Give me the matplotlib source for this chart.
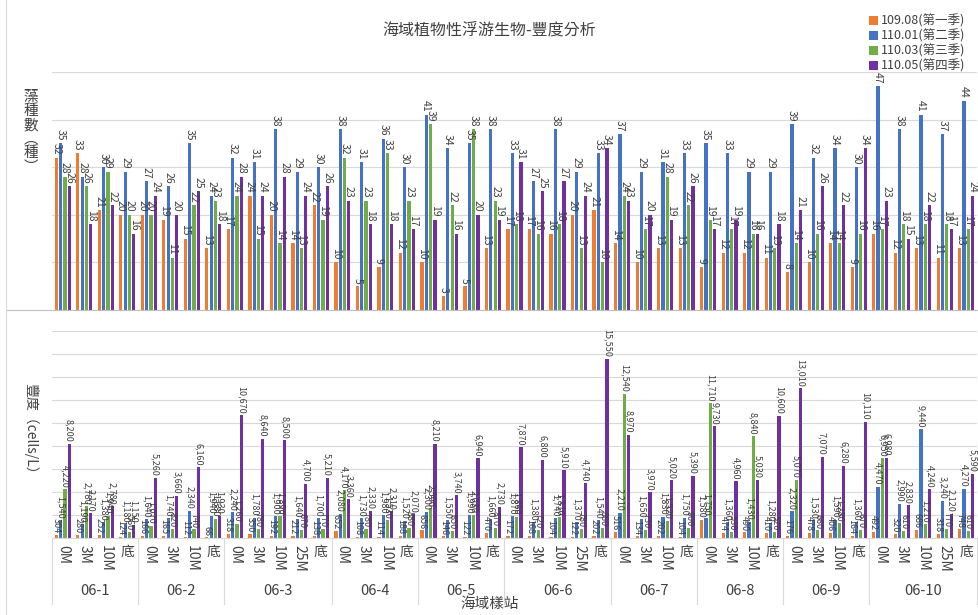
import numpy as np
import matplotlib.pyplot as plt
from matplotlib.lines import Line2D

plt.rcParams['font.family'] = ['Noto Sans CJK TC', 'DejaVu Sans']

stations = ['06-1', '06-2', '06-3', '06-4', '06-5', '06-6', '06-7', '06-8', '06-9', '06-10']
depths = [['0M', '3M', '10M', '底'], ['0M', '3M', '10M', '底'], ['0M', '3M', '10M', '25M', '底'],
          ['0M', '3M', '10M', '底'], ['0M', '3M', '10M', '底'], ['0M', '3M', '10M', '25M', '底'],
          ['0M', '3M', '10M', '底'], ['0M', '3M', '10M', '底'], ['0M', '3M', '10M', '底'],
          ['0M', '3M', '10M', '25M', '底']]
seasons = ['109.08(第一季)', '110.01(第二季)', '110.03(第三季)', '110.05(第四季)']
colors = ['#ED7D31', '#4472C4', '#70AD47', '#7030A0']

# 藻種數
sp_q1 = [32, 33, 21, 20, 20, 19, 15, 13, 17, 24, 20, 14, 22, 10, 5, 9, 12, 10, 3, 5, 13,
         17, 17, 16, 20, 21, 14, 10, 13, 13, 9, 12, 12, 11, 8, 10, 14, 9, 16, 12, 13, 11, 13]
sp_q2 = [35, 28, 30, 29, 27, 26, 35, 24, 32, 31, 38, 29, 30, 38, 31, 36, 30, 41, 34, 35, 38,
         33, 27, 38, 29, 33, 37, 29, 31, 33, 35, 33, 29, 29, 39, 32, 34, 30, 47, 38, 41, 37, 44]
sp_q3 = [28, 26, 29, 20, 20, 11, 22, 23, 24, 15, 14, 13, 19, 32, 23, 33, 23, 39, 22, 38, 23,
         18, 16, 18, 13, 10, 24, 17, 28, 22, 19, 17, 16, 13, 14, 16, 14, 16, 17, 18, 18, 18, 17]
sp_q4 = [26, 18, 22, 16, 24, 20, 25, 18, 28, 24, 28, 24, 26, 23, 18, 18, 17, 19, 16, 20, 19,
         31, 25, 27, 24, 34, 23, 20, 19, 26, 17, 19, 16, 18, 21, 26, 22, 34, 23, 15, 22, 17, 24]

# 豐度 cells/L
ab_q1 = [304, 280, 252, 124, 166, 165, 112, 66, 318, 350, 192, 212, 138, 652, 108, 114, 188,
         656, 146, 122, 470, 172, 168, 104, 122, 202, 516, 134, 202, 104, 1580, 474, 490, 410,
         176, 478, 406, 164, 492, 320, 686, 318, 748]
ab_q2 = [1540, 1190, 1380, 1180, 1640, 1740, 2340, 1940, 2240, 1780, 1900, 1640, 1700, 2080,
         1730, 1980, 1520, 2300, 1550, 1990, 1660, 1870, 1380, 1740, 1370, 1540, 2210, 1650,
         1830, 1750, 1750, 1360, 1430, 1280, 2320, 1530, 1590, 1360, 4470, 2990, 9440, 3240, 4270]
ab_q3 = [4220, 2780, 1940, 560, 1070, 820, 740, 1680, 1260, 780, 1890, 670, 770, 4170, 780,
         1530, 880, 2590, 650, 2030, 870, 1860, 720, 1810, 780, 860, 12540, 730, 1520, 900,
         11710, 530, 8840, 520, 5070, 660, 1280, 670, 6950, 610, 1210, 770, 610]
ab_q4 = [8200, 2170, 2780, 1150, 5260, 3660, 6160, 1930, 10670, 8640, 8500, 4700, 5210, 3360,
         2330, 2310, 2070, 8210, 3740, 6940, 2730, 7870, 6800, 5910, 4740, 15550, 8970, 3970,
         5020, 5390, 9730, 4960, 5030, 10600, 13010, 7070, 6280, 10110, 6980, 2830, 4240, 2120, 5590]

labels = [d for grp in depths for d in grp]
x = np.arange(len(labels))
offsets = [-0.3, -0.1, 0.1, 0.3]
w = 0.15

fig = plt.figure(figsize=(9.79, 6.15), dpi=100)
L, R = 52 / 979, 977 / 979
ax1 = fig.add_axes([L, 1 - 310 / 615, R - L, (310 - 72) / 615])
ax2 = fig.add_axes([L, 1 - 538 / 615, R - L, (538 - 331) / 615])

grid_c = '#d9d9d9'
for ax in (ax1, ax2):
    ax.set_xlim(-0.5, len(labels) - 0.5)
    ax.set_xticks([])
    ax.set_yticklabels([])
    ax.tick_params(axis='y', length=0)
    ax.grid(axis='y', color=grid_c, linewidth=0.8)
    ax.set_axisbelow(True)
    for s in ax.spines.values():
        s.set_visible(False)

ax1.set_ylim(0, 50)
ax1.set_yticks(np.arange(0, 51, 10))
ax2.set_ylim(0, 18000)
ax2.set_yticks(np.arange(0, 18001, 2000))

for i, vals in enumerate([sp_q1, sp_q2, sp_q3, sp_q4]):
    ax1.bar(x + offsets[i], vals, w, color=colors[i], label=seasons[i])
    for xi, v in zip(x, vals):
        ax1.text(xi + offsets[i], v + 0.6, str(v), rotation=270, ha='center', va='bottom',
                 fontsize=7.5, color='#404040', clip_on=False)

for i, vals in enumerate([ab_q1, ab_q2, ab_q3, ab_q4]):
    ax2.bar(x + offsets[i], vals, w, color=colors[i])
    for xi, v in zip(x, vals):
        ax2.text(xi + offsets[i], v + 150, f'{v:,}', rotation=270, ha='center', va='bottom',
                 fontsize=6.5, color='#404040', clip_on=False)

# category and station labels under the lower panel
tr = ax2.get_xaxis_transform()
for xi, lab in zip(x, labels):
    rot = 0 if lab == '底' else 270
    ax2.text(xi, -0.035, lab, rotation=rot, ha='center', va='top', fontsize=10,
             color='#404040', transform=tr)
edges = np.cumsum([0] + [len(g) for g in depths]) - 0.5
for e in edges:
    ax2.plot([e, e], [0, -0.32], color=grid_c, linewidth=0.8, transform=tr, clip_on=False)
for k, st in enumerate(stations):
    ax2.text((edges[k] + edges[k + 1]) / 2, -0.255, st, ha='center', va='center',
             fontsize=10.5, color='#404040', transform=tr)
ax2.plot([-0.5, len(labels) - 0.5], [0, 0], color=grid_c, linewidth=0.8, transform=tr,
         clip_on=False)

fig.add_artist(Line2D([6 / 979, 1], [1 - 310 / 615] * 2, color='#bfbfbf', linewidth=0.8))
fig.add_artist(Line2D([6 / 979] * 2, [0, 1], color='#d9d9d9', linewidth=0.8))

fig.text(0.5, 1 - 30 / 615, '海域植物性浮游生物-豐度分析', ha='center', va='center',
         fontsize=11.5, color='#404040')
fig.text(490 / 979, 1 - 604 / 615, '海域樣站', ha='center', va='center', fontsize=10.5,
         color='#404040')
fig.text(31 / 979, 1 - 132 / 615, '藻\n種\n數\n︵\n種\n︶', ha='center', va='center',
         fontsize=10.5, color='#404040', linespacing=1.0)
fig.text(31 / 979, 1 - 432 / 615, '豐度（cells/L）', ha='center', va='center', rotation=270,
         fontsize=10, color='#404040')

fig.legend(loc='upper right', bbox_to_anchor=(0.998, 0.995), frameon=False, fontsize=9,
           handlelength=0.7, handleheight=0.7, handletextpad=0.3, labelspacing=0.15,
           labelcolor='#404040')

fig.savefig('out.png', dpi=100)
